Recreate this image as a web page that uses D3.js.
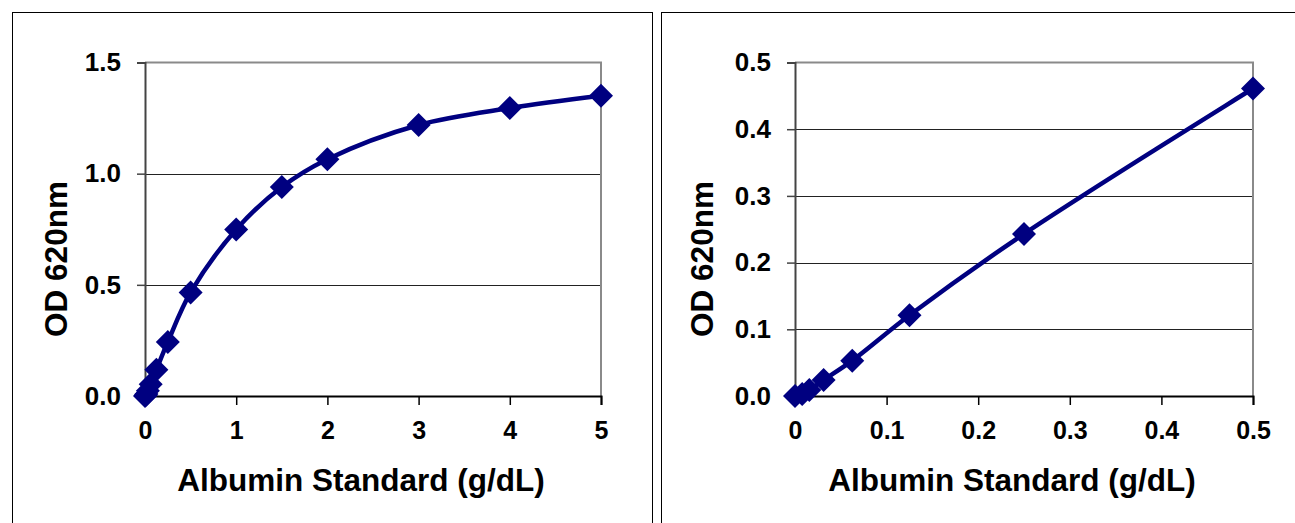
<!DOCTYPE html>
<html>
<head>
<meta charset="utf-8">
<script src="https://cdn.jsdelivr.net/npm/d3@7"></script>
<style>
  html, body { margin: 0; padding: 0; background: #fff; }
  svg { display: block; }
  text { font-family: "Liberation Sans", Arial, sans-serif; font-weight: bold; fill: #000; }
</style>
</head>
<body>
<svg id="chart" width="1295" height="523"></svg>
<script>
// Data
const leftX  = [0, 0.0078125, 0.015625, 0.03125, 0.0625, 0.125, 0.25, 0.5, 1, 1.5, 2, 3, 4, 5];
const leftY  = [0, 0.003, 0.009, 0.024, 0.053, 0.118, 0.243, 0.466, 0.749, 0.940, 1.065, 1.219, 1.295, 1.350];
const rightX = [0, 0.0078125, 0.015625, 0.03125, 0.0625, 0.125, 0.25, 0.5];
const rightY = [0, 0.003, 0.009, 0.024, 0.053, 0.121, 0.243, 0.461];
const leftXTicks  = [0, 1, 2, 3, 4, 5];
const leftYTicks  = [0, 0.5, 1.0, 1.5];
const rightXTicks = [0, 0.1, 0.2, 0.3, 0.4, 0.5];
const rightYTicks = [0, 0.1, 0.2, 0.3, 0.4, 0.5];
const xTitle = "Albumin Standard (g/dL)";
const yTitle = "OD 620nm";

const svg = d3.select("#chart");
const navy = "#000080";
const FONT = "'Liberation Sans', Arial, sans-serif";

// Panel frames
svg.append("rect").attr("x", 12.5).attr("y", 12.5).attr("width", 640).attr("height", 530)
  .attr("fill", "none").attr("stroke", "#000").attr("stroke-width", 1);
svg.append("rect").attr("x", 661.5).attr("y", 12.5).attr("width", 700).attr("height", 530)
  .attr("fill", "none").attr("stroke", "#000").attr("stroke-width", 1);

function panel(cfg) {
  const x = d3.scaleLinear().domain(cfg.xDomain).range([cfg.x0, cfg.x1]);
  const y = d3.scaleLinear().domain(cfg.yDomain).range([cfg.y0, cfg.y1]);
  const g = svg.append("g");

  // gridlines
  g.append("g").selectAll("line").data(cfg.yTicks.filter(t => t > 0 && t < cfg.yDomain[1]))
    .join("line")
    .attr("x1", cfg.x0).attr("x2", cfg.x1)
    .attr("y1", d => Math.round(y(d)) + 0.5).attr("y2", d => Math.round(y(d)) + 0.5)
    .attr("stroke", "#222").attr("stroke-width", 1.2);

  // plot area border (top and right, gray)
  g.append("path")
    .attr("d", `M${cfg.x0},${y(cfg.yDomain[1])}H${cfg.x1}V${cfg.y0}`)
    .attr("fill", "none").attr("stroke", "#8a8a8a").attr("stroke-width", 2);

  // y axis
  const ya = g.append("g").attr("transform", `translate(${cfg.x0},0)`)
    .call(d3.axisLeft(y).tickValues(cfg.yTicks).tickSize(8).tickPadding(16).tickFormat(d3.format(cfg.yFmt)));
  ya.attr("font-size", 26).attr("font-family", FONT).attr("font-weight", "bold");
  ya.select(".domain").attr("stroke", "#444").attr("stroke-width", 2);
  ya.selectAll(".tick line").attr("stroke", "#444").attr("stroke-width", 1.5);
  ya.selectAll(".tick text").attr("fill", "#000");

  // x axis
  const xa = g.append("g").attr("transform", `translate(0,${cfg.y0})`)
    .call(d3.axisBottom(x).tickValues(cfg.xTicks).tickSize(9).tickPadding(10).tickFormat(d3.format(cfg.xFmt)));
  xa.attr("font-size", 25).attr("font-family", FONT).attr("font-weight", "bold");
  xa.select(".domain").attr("stroke", "#000").attr("stroke-width", 2);
  xa.selectAll(".tick line").attr("stroke", "#000").attr("stroke-width", 1.5);
  xa.selectAll(".tick text").attr("fill", "#000").attr("dy", null).attr("y", 43);

  // line
  const pts = cfg.xs.map((v, i) => [x(v), y(cfg.ys[i])]);
  g.append("path").datum(pts)
    .attr("d", d3.line().curve(d3.curveCatmullRom.alpha(0.5)))
    .attr("fill", "none").attr("stroke", navy).attr("stroke-width", 4.5).attr("stroke-linejoin", "round");

  // diamond markers
  const r = 12;
  g.append("g").selectAll("path").data(pts).join("path")
    .attr("transform", d => `translate(${d[0]},${d[1]})`)
    .attr("d", `M0,${-r}L${r},0L0,${r}L${-r},0Z`)
    .attr("fill", navy);

  // titles
  g.append("text").attr("x", (cfg.x0 + cfg.x1) / 2 - 12).attr("y", 491)
    .attr("text-anchor", "middle").style("font-size", "31.5px").text(xTitle);
  g.append("text").attr("transform", `translate(${cfg.x0 - cfg.yTitleOff},259) rotate(-90)`)
    .attr("text-anchor", "middle").style("font-size", "31.5px").text(yTitle);
}

panel({
  x0: 145, x1: 601, y0: 396, y1: 62.5,
  xDomain: [0, 5], yDomain: [0, 1.5],
  xTicks: leftXTicks, yTicks: leftYTicks, xFmt: "d", yFmt: ".1f",
  xs: leftX, ys: leftY, yTitleOff: 78
});
panel({
  x0: 795, x1: 1253, y0: 396, y1: 62.5,
  xDomain: [0, 0.5], yDomain: [0, 0.5],
  xTicks: rightXTicks, yTicks: rightYTicks, xFmt: "", yFmt: ".1f",
  xs: rightX, ys: rightY, yTitleOff: 82
});
</script>
</body>
</html>
